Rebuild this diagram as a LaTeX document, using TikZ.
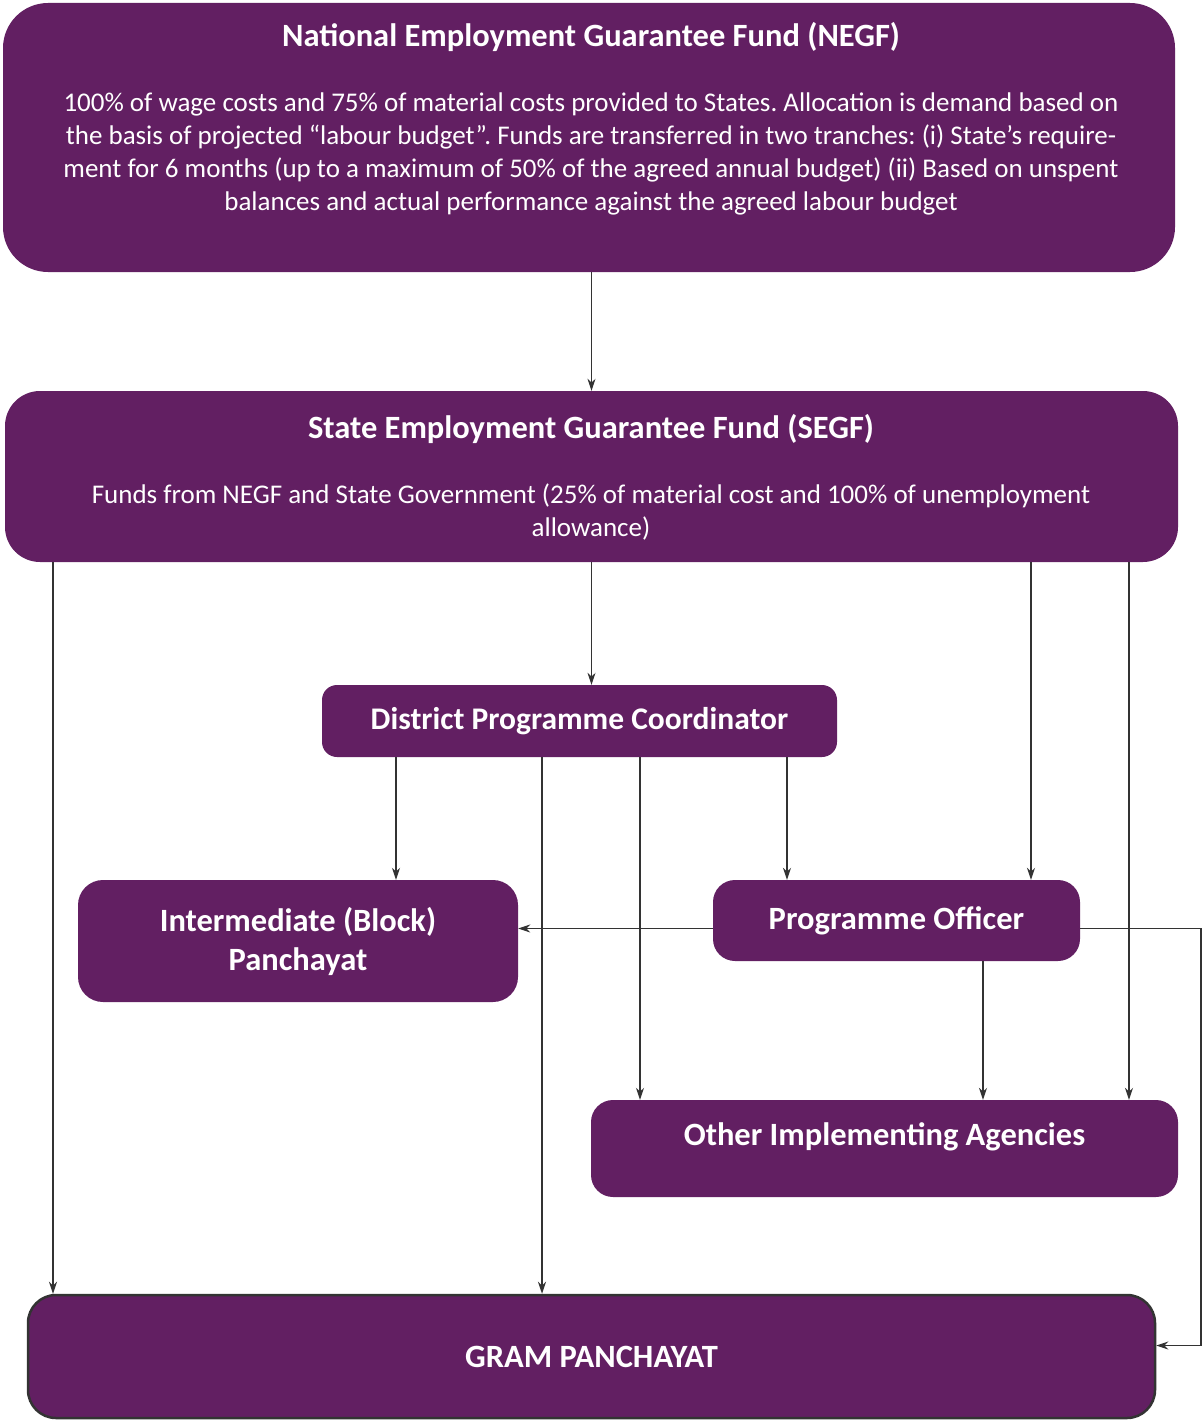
\documentclass[tikz,border=0pt]{standalone}
\usepackage{fontspec}
\setmainfont{Carlito}
\frenchspacing
\usetikzlibrary{arrows.meta,positioning}
\definecolor{fund}{HTML}{621F62}
\definecolor{wire}{HTML}{333333}
\newcommand{\boxtitle}{\fontsize{32.5}{39}\selectfont\bfseries}
\newcommand{\boxbody}{\fontsize{27}{32.7}\selectfont}

\tikzset{
  fundbox/.style={fill=fund, text=white, rounded corners=#1, inner sep=0pt, align=center, font=\boxtitle},
  fundbox/.default=20pt,
  boxtext/.style={text=white, inner sep=0pt, align=center},
  flow/.style={draw=wire, line width=1.3pt, -{Stealth[length=12pt,width=8pt]}}
}

\begin{document}
\begin{tikzpicture}[x=1pt, y=-1pt]
\useasboundingbox (0,0) rectangle (1203,1421);

% --- Funds ---
\node[fundbox=45pt, minimum width=1172pt, minimum height=269pt] (negf) at (589,137.5) {};
\node[boxtext, font=\boxtitle, anchor=base] (negftitle) at (591,47) {National Employment Guarantee Fund (NEGF)};
% base of a multi-line node = last line
\node[boxtext, font=\boxbody, anchor=base] (negfbody) at (591,210)
  {100\% of wage costs and 75\% of material costs provided to States. Allocation is demand based on\\
   the basis of projected “labour budget”. Funds are transferred in two tranches: (i) State’s require-\\
   ment for 6 months (up to a maximum of 50\% of the agreed annual budget) (ii) Based on unspent\\
   balances and actual performance against the agreed labour budget};

\node[fundbox=35pt, minimum width=1173pt, minimum height=171pt] (segf) at (591.5,476.5) {};
\node[boxtext, font=\boxtitle, anchor=base] (segftitle) at (591,438) {State Employment Guarantee Fund (SEGF)};
\node[boxtext, font=\boxbody, anchor=base] (segfbody) at (591,536)
  {Funds from NEGF and State Government (25\% of material cost and 100\% of unemployment\\
   allowance)};

% --- Implementing levels ---
\node[fundbox=15pt, minimum width=515pt, minimum height=72pt, font=\fontsize{31.5}{39}\selectfont\bfseries] (dpc) at (579.5,721) {District Programme Coordinator};
\node[fundbox=25pt, minimum width=440pt, minimum height=122pt] (ib) at (298,941) {Intermediate (Block)\\Panchayat};
\node[fundbox=22pt, minimum width=367pt, minimum height=81pt] (po) at (896.5,920.5) {Programme Officer};
\node[fundbox=22pt, minimum width=587pt, minimum height=97pt] (oia) at (884.5,1148.5) {};
\node[boxtext, font=\boxtitle] (oiatitle) at (884.5,1137) {Other Implementing Agencies};
\node[fundbox=28pt, draw=wire, line width=2.5pt, minimum width=1127pt, minimum height=123pt] (gp) at (591.5,1356.5) {GRAM PANCHAYAT};

% --- Fund flows ---
\draw[flow] (negf.south -| segf.north) -- (segf.north);

\draw[flow] (segf.south -| 53,0) -- (gp.north -| 53,0);
\draw[flow] (segf.south) -- (segf.south |- dpc.north);
\draw[flow] (segf.south -| 1031,0) -- (po.north -| 1031,0);
\draw[flow] (segf.south -| 1129,0) -- (oia.north -| 1129,0);

\draw[flow] (dpc.south -| 396,0) -- (ib.north -| 396,0);
\draw[flow] (dpc.south -| 542,0) -- (gp.north -| 542,0);
\draw[flow] (dpc.south -| 640,0) -- (oia.north -| 640,0);
\draw[flow] (dpc.south -| 787,0) -- (po.north -| 787,0);

\coordinate (pow) at ([yshift=-8pt]po.west);
\coordinate (poe) at ([yshift=-8pt]po.east);
\coordinate (gpe) at ([yshift=11pt]gp.east);
\draw[flow] (pow) -- (pow -| ib.east);
\draw[flow] (poe) -- (poe -| 1201,0) |- (gpe);
\draw[flow] (po.south -| 983,0) -- (oia.north -| 983,0);
\end{tikzpicture}
\end{document}
